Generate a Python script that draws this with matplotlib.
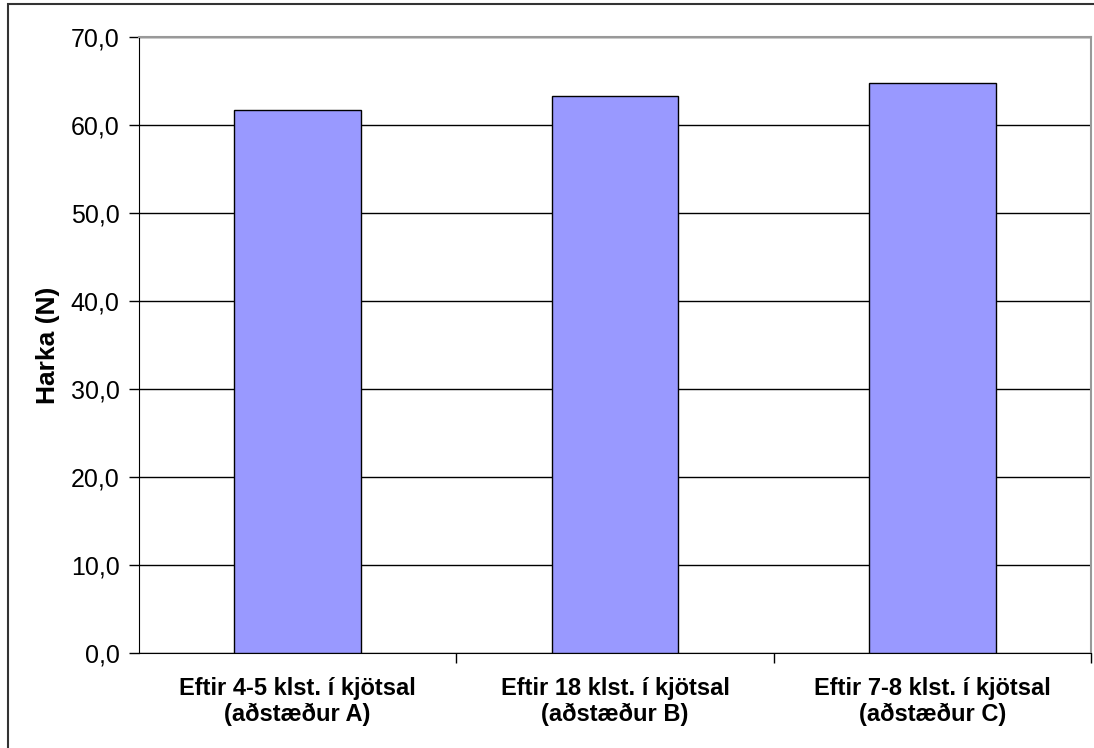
import matplotlib.pyplot as plt
from matplotlib.patches import Rectangle

categories = ['Eftir 4-5 klst. í kjötsal\n(aðstæður A)',
              'Eftir 18 klst. í kjötsal\n(aðstæður B)',
              'Eftir 7-8 klst. í kjötsal\n(aðstæður C)']
harka = [61.7, 63.3, 64.8]
yticks = [0, 10, 20, 30, 40, 50, 60, 70]
ytick_labels = ['0,0', '10,0', '20,0', '30,0', '40,0', '50,0', '60,0', '70,0']

plt.rcParams['font.family'] = ['Liberation Sans', 'DejaVu Sans']

fig = plt.figure(figsize=(10.94, 7.48), dpi=100)
ax = fig.add_axes([139/1094, 1 - 653/748, (1091 - 139)/1094, (653 - 37)/748])

# outer chart frame (only top and left edges visible in the original)
fig.patches.append(Rectangle((8/1094, -0.1), 1.2, 1 - 4/748 + 0.1,
                             transform=fig.transFigure, fill=False,
                             edgecolor='#333333', linewidth=1.5))

x = range(len(categories))
ax.bar(x, harka, width=0.4, color='#9999FF', edgecolor='black', linewidth=1, zorder=3)

ax.set_xlim(-0.5, 2.5)
ax.set_ylim(0, 70)
ax.set_yticks(yticks)
ax.set_yticklabels(ytick_labels, fontsize=18)
ax.yaxis.grid(True, color='black', linewidth=1, zorder=0)

ax.set_xticks([0.5, 1.5, 2.5], minor=False)
ax.set_xticklabels([])
ax.set_xticks(list(x), minor=True)
ax.set_xticklabels(categories, minor=True, fontsize=17, fontweight='bold')
ax.tick_params(axis='x', which='minor', length=0, pad=17)
ax.tick_params(axis='x', which='major', length=7, width=1, direction='out')
ax.tick_params(axis='y', length=7, width=1, direction='out', pad=7)

ax.set_ylabel('Harka (N)', fontsize=19, fontweight='bold')
ax.yaxis.set_label_coords(-0.083, 0.5)

ax.spines['top'].set_color('#999999')
ax.spines['right'].set_color('#999999')
for s in ['top', 'right']:
    ax.spines[s].set_linewidth(1.5)

fig.savefig('out.png', dpi=100)
